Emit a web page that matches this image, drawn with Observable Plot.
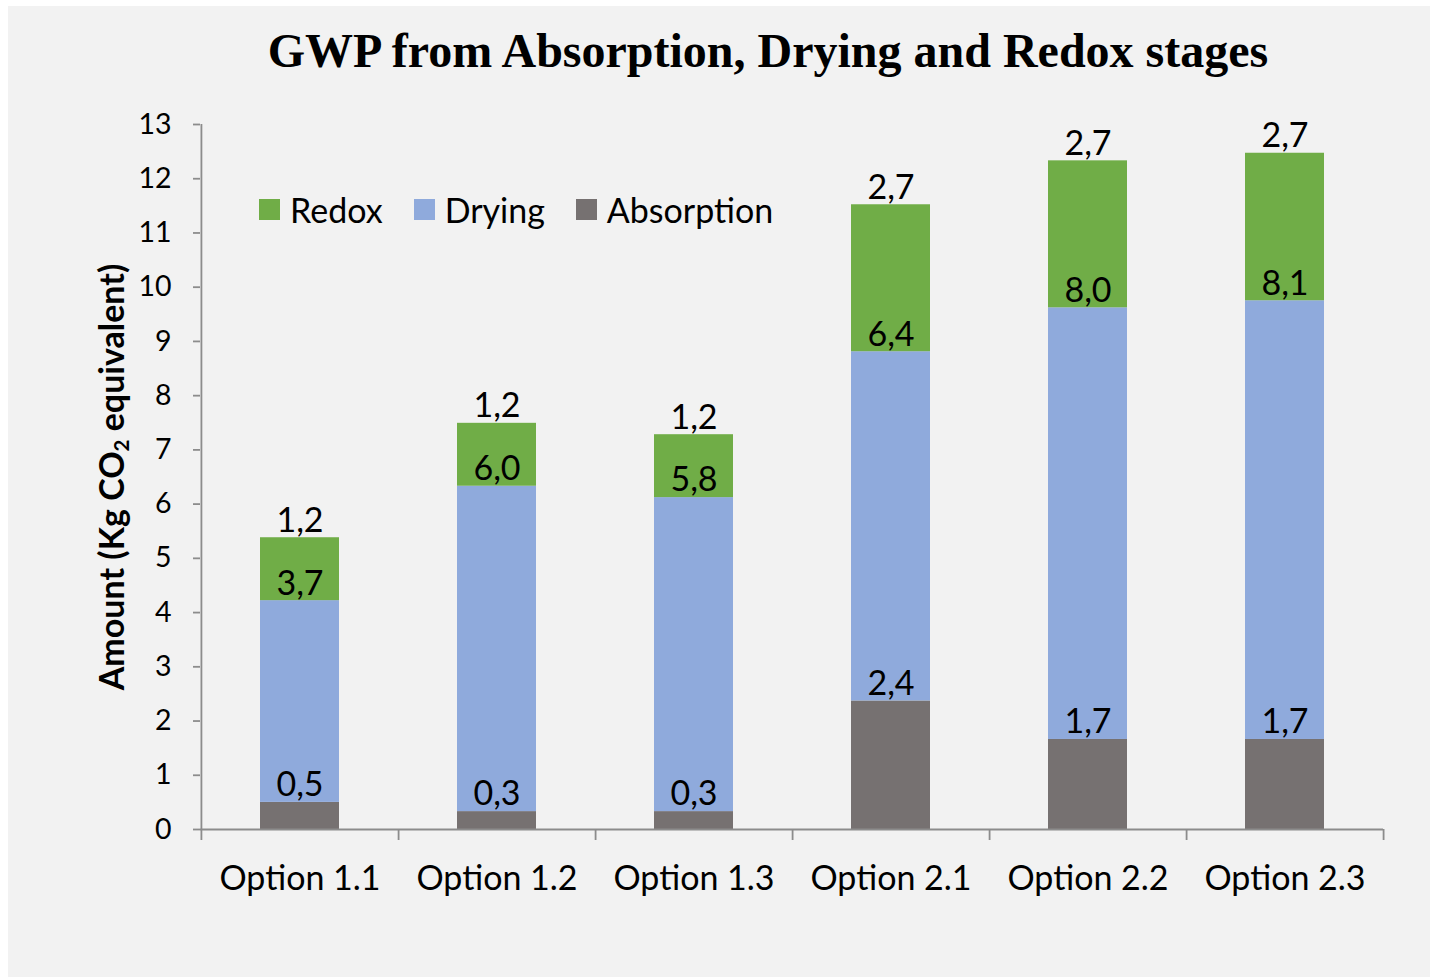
<!DOCTYPE html>
<html><head><meta charset="utf-8">
<script src="https://cdn.jsdelivr.net/npm/d3@7"></script>
<script src="https://cdn.jsdelivr.net/npm/@observablehq/plot@0.6"></script>
<style>
html,body{margin:0;padding:0;background:#fff;width:1430px;height:977px;overflow:hidden;}
#bg{position:absolute;left:8px;top:6px;width:1422px;height:971px;background:#f2f2f2;}
#title{position:absolute;left:0;top:27px;width:1536px;text-align:center;font-family:"Liberation Serif";font-weight:bold;font-size:48px;line-height:48px;color:#000;white-space:nowrap;}
#chart{position:absolute;left:0;top:100px;}
#ylabel{position:absolute;left:110px;top:477px;transform:translate(-50%,-50%) rotate(-90deg);font-family:Lato;font-weight:bold;font-size:34px;white-space:nowrap;color:#000;}
#ylabel sub{font-size:0.6em;vertical-align:-0.25em;line-height:0;}
#legend{position:absolute;left:259px;top:189px;display:flex;align-items:center;font-family:Lato;font-size:34px;color:#000;}
.item{display:flex;align-items:center;margin-right:31px;}
.sw{width:21px;height:21px;margin-right:10px;}
</style>
</head><body>
<div id="bg"></div>
<div id="title">GWP from Absorption, Drying and Redox stages</div>
<div id="chart"></div>
<div id="ylabel">Amount (Kg CO<sub>2</sub> equivalent)</div>
<div id="legend"></div>
<script>
const categories = ["Option 1.1", "Option 1.2", "Option 1.3", "Option 2.1", "Option 2.2", "Option 2.3"];
const stages = ["Absorption", "Drying", "Redox"];
const absorption = [0.5, 0.33, 0.33, 2.37, 1.66, 1.66];
const drying = [3.72, 6.0, 5.79, 6.44, 7.96, 8.09];
const redox = [1.16, 1.16, 1.16, 2.71, 2.71, 2.72];
const stageColors = ["#767171", "#8faadc", "#70ad47"];
const legendOrder = ["Redox", "Drying", "Absorption"];
const yTicks = [0,1,2,3,4,5,6,7,8,9,10,11,12,13];

const series = {Absorption: absorption, Drying: drying, Redox: redox};
const rows = [];
categories.forEach((c, i) => {
  stages.forEach(s => rows.push({cat: c, stage: s, value: series[s][i]}));
});

const W = 1430, H = 860, mL = 200, mR = 47, mT = 24, mB = 131;
const step = (W - mL - mR) / (categories.length - 0.6 + 2 * 0.3);
const pxPerUnit = (H - mT - mB) / 13;
const tickDown = -11 / pxPerUnit;
const fmt = v => d3.format(".1f")(v).replace(".", ",");
const axisColor = "#8c8c8c";

const chart = Plot.plot({
  width: W, height: H,
  marginLeft: mL, marginRight: mR, marginTop: mT, marginBottom: mB,
  style: {fontFamily: "Lato", background: "transparent", color: "#000", overflow: "visible"},
  x: {domain: categories, paddingInner: 0.6, paddingOuter: 0.3, label: null},
  y: {domain: [0, 13], label: null},
  color: {domain: stages, range: stageColors},
  marks: [
    Plot.barY(rows, {x: "cat", y: "value", fill: "stage", order: stages}),
    Plot.ruleY([0], {stroke: axisColor, strokeWidth: 1.8}),
    Plot.ruleX([categories[0]], {x: d => d, y1: 0, y2: 13, dx: -step / 2, stroke: axisColor, strokeWidth: 1.8}),
    Plot.ruleX(categories, {x: d => d, y1: 0, y2: tickDown, dx: step / 2, stroke: axisColor, strokeWidth: 1.8}),
    Plot.ruleX([categories[0]], {x: d => d, y1: 0, y2: tickDown, dx: -step / 2, stroke: axisColor, strokeWidth: 1.8}),
    Plot.axisY({ticks: yTicks, tickSize: 7, tickPadding: 22, stroke: axisColor, strokeWidth: 1.8, fontSize: 28.5, tickFormat: d => String(d), label: null}),
    Plot.axisX({tickSize: 0, tickPadding: 36, fontSize: 34, label: null}),
    Plot.text(rows, Plot.stackY2({x: "cat", y: "value", z: "stage", order: stages, text: d => fmt(d.value), dy: -17, fontSize: 34, fill: "#000"}))
  ]
});
document.getElementById("chart").appendChild(chart);

const legend = document.getElementById("legend");
legendOrder.forEach(s => {
  const item = document.createElement("div");
  item.className = "item";
  const sw = document.createElement("div");
  sw.className = "sw";
  sw.style.background = stageColors[stages.indexOf(s)];
  const t = document.createElement("span");
  t.textContent = s;
  item.appendChild(sw); item.appendChild(t);
  legend.appendChild(item);
});
</script>
</body></html>
